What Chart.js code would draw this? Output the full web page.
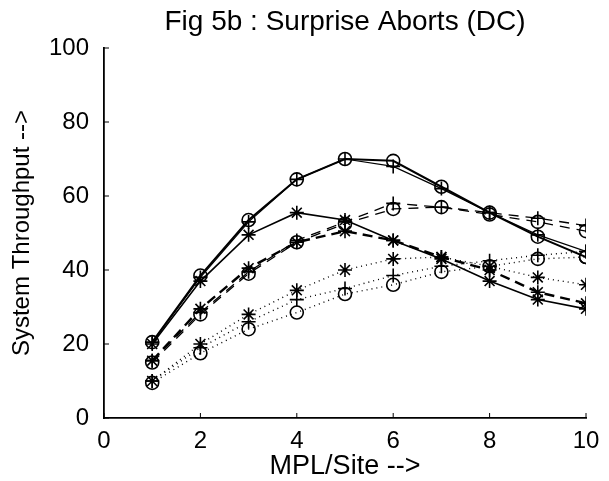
<!DOCTYPE html>
<html>
<head>
<meta charset="utf-8">
<script src="https://cdn.jsdelivr.net/npm/chart.js@4.4.0/dist/chart.umd.min.js"></script>
<style>
  body { margin: 0; background: #fff; }
  #wrap { width: 609px; height: 481px; }
</style>
</head>
<body>
<div id="wrap"><canvas id="grafico" width="609" height="481"></canvas></div>
<script>
// MPL per site
const mpl = [1, 2, 3, 4, 5, 6, 7, 8, 9, 10];

// solid curves
const solidCirc  = [20.5, 38.5, 53.5, 64.5, 70, 69.5, 62.5, 55.5, 49, 43.5];
const solidPlus  = [20.5, 38, 53, 64.5, 70, 68, 62, 55.5, 49.5, 45];
const solidStar  = [20, 37, 49.5, 55.5, 53.5, 48, 43, 37, 32, 29.5];
// dashed curves
const dashPlus   = [15.5, 28.5, 39.5, 48, 53, 58, 57, 55.5, 54, 52];
const dashCirc   = [15, 28, 39, 47.5, 52.5, 56.5, 57, 55, 53, 50.5];
const dashStar   = [15.5, 29.5, 40.5, 47.5, 50.5, 48, 43.5, 40, 34, 31];
// dotted curves
const dotPlus    = [10, 19, 26, 32, 35, 38.5, 41, 42.5, 44, 45];
const dotCirc    = [9.5, 17.5, 24, 28.5, 33.5, 36, 39.5, 41, 43, 43.5];
const dotStar    = [10, 20, 28, 34.5, 40, 43, 43.5, 41, 38, 36];

const xTicks = [0, 2, 4, 6, 8, 10];
const yTicks = [0, 20, 40, 60, 80, 100];

const FONTE = "'Liberation Sans', Arial, Helvetica, sans-serif";

function serie(valores, estilo, traco, largura, raio) {
    return {
        data: valores.map((v, i) => ({ x: mpl[i], y: v })),
        borderColor: '#000',
        backgroundColor: 'rgba(0,0,0,0)',
        borderWidth: largura,
        borderDash: traco,
        pointStyle: estilo,
        pointRadius: raio,
        pointBorderColor: '#000',
        pointBorderWidth: 1.6,
        pointBackgroundColor: 'rgba(0,0,0,0)',
        tension: 0,
        fill: false
    };
}

// marcas de escala para dentro, como no original
const ticksInternos = {
    id: 'ticksInternos',
    afterDraw(chart) {
        const ctx = chart.ctx;
        const xs = chart.scales.x, ys = chart.scales.y;
        ctx.save();
        ctx.strokeStyle = '#000';
        ctx.lineWidth = 1;
        xTicks.forEach(t => {
            const px = xs.getPixelForValue(t);
            ctx.beginPath();
            ctx.moveTo(px, ys.bottom);
            ctx.lineTo(px, ys.bottom - 5);
            ctx.stroke();
        });
        yTicks.forEach(t => {
            const py = ys.getPixelForValue(t);
            ctx.beginPath();
            ctx.moveTo(xs.left, py);
            ctx.lineTo(xs.left + 5, py);
            ctx.stroke();
        });
        ctx.restore();
    }
};

new Chart(document.getElementById('grafico'), {
    type: 'line',
    data: {
        datasets: [
            serie(solidCirc, 'circle', [], 2, 6.5),
            serie(solidPlus, 'cross', [], 1.2, 7),
            serie(solidStar, 'star', [], 1.6, 7),
            serie(dashPlus, 'cross', [10, 7], 1.3, 7),
            serie(dashCirc, 'circle', [10, 7], 1.3, 6.5),
            serie(dashStar, 'star', [10, 6], 2.4, 7),
            serie(dotPlus, 'cross', [1, 4], 1.4, 7),
            serie(dotCirc, 'circle', [1, 4], 1.4, 6.5),
            serie(dotStar, 'star', [1, 4], 1.4, 7)
        ]
    },
    options: {
        responsive: false,
        animation: false,
        layout: { padding: { left: 0, right: 23, top: 0, bottom: 0 } },
        plugins: {
            legend: { display: false },
            tooltip: { enabled: false },
            title: {
                display: true,
                fullSize: false,
                text: 'Fig 5b : Surprise Aborts (DC)',
                color: '#000',
                font: { family: FONTE, size: 28, weight: 'normal', lineHeight: 1.2 },
                padding: { top: 5, bottom: 9.4 }
            }
        },
        scales: {
            x: {
                type: 'linear',
                min: 0, max: 10,
                afterBuildTicks: s => { s.ticks = xTicks.map(v => ({ value: v })); },
                afterFit: s => { s.height = 63; },
                ticks: { color: '#000', font: { family: FONTE, size: 24 }, padding: 1, maxRotation: 0 },
                grid: { display: false },
                border: { display: true, color: '#000', width: 1.8 },
                title: {
                    display: true, text: 'MPL/Site -->', color: '#000',
                    font: { family: FONTE, size: 27, lineHeight: 1 }, padding: { top: 0, bottom: 1 }
                }
            },
            y: {
                min: 0, max: 100,
                afterBuildTicks: s => { s.ticks = yTicks.map(v => ({ value: v })); },
                afterFit: s => { s.width = 104; },
                ticks: { color: '#000', font: { family: FONTE, size: 24 }, padding: 7 },
                grid: { display: false },
                border: { display: true, color: '#000', width: 1.8 },
                title: {
                    display: true, text: 'System Throughput -->', color: '#000',
                    font: { family: FONTE, size: 24, lineHeight: 1.1 }, padding: { top: 9, bottom: 0 }
                }
            }
        }
    },
    plugins: [ticksInternos]
});
</script>
</body>
</html>
